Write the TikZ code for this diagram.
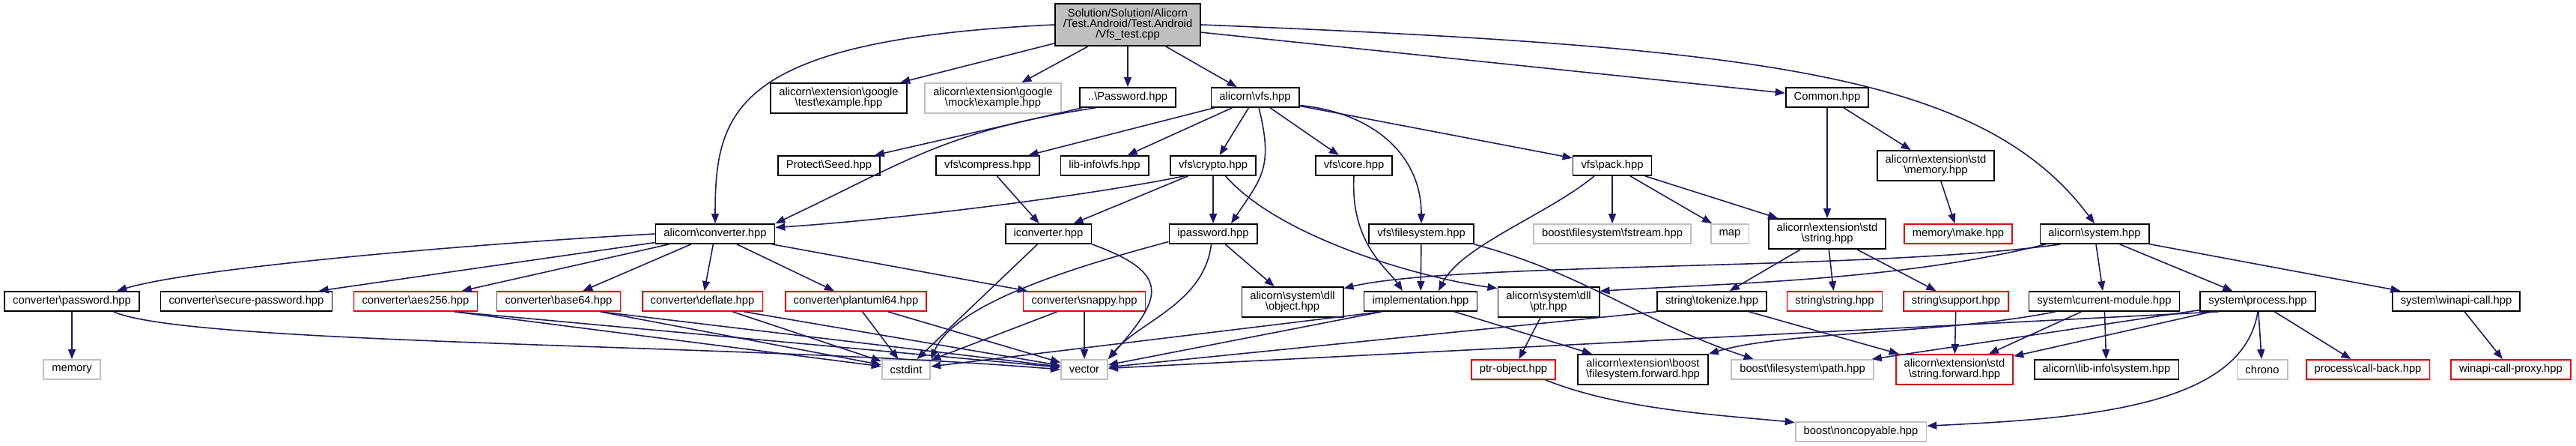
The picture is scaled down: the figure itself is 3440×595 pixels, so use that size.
\documentclass[tikz,border=0pt]{standalone}
\usepackage{fontspec}
\setmainfont{Liberation Sans}
\usetikzlibrary{arrows.meta}
\definecolor{dxedge}{HTML}{191970}
\definecolor{dxgray}{HTML}{BFBFBF}
\definecolor{dxred}{HTML}{FF0000}
\newcommand{\bsl}{\textbackslash}

\begin{document}
\begin{tikzpicture}[
    x=0.01cm, y=-0.01cm,
    hdr/.style={draw=black, fill=white, line width=0.5pt, align=center,
                font=\fontsize{4.2}{4}\selectfont,
                inner xsep=0.11cm, inner ysep=0pt, minimum height=0.26cm},
    ext/.style={hdr, draw=dxgray},
    trunc/.style={hdr, draw=dxred},
    two/.style={minimum height=0.40cm},
    rootfile/.style={hdr, fill=dxgray, minimum height=0.56cm},
    dep/.style={draw=dxedge, line width=0.45pt,
                -{Triangle[length=0.13cm, width=0.1cm]}},
  ]
  \useasboundingbox (0,0) rectangle (3440,595);

  % ===== row 1 =====
  \node[rootfile] (root) at (1506,33)
    {Solution/Solution/Alicorn\\/Test.Android/Test.Android\\/Vfs\_test.cpp};

  % ===== row 2 =====
  \node[hdr, two] (gtest) at (1120,131) {alicorn\bsl extension\bsl google\\\bsl test\bsl example.hpp};
  \node[ext, two] (gmock) at (1326,131) {alicorn\bsl extension\bsl google\\\bsl mock\bsl example.hpp};
  \node[hdr] (pwd) at (1506,130) {..\bsl Password.hpp};
  \node[hdr] (vfs) at (1676,130) {alicorn\bsl vfs.hpp};
  \node[hdr] (common) at (2440,130) {Common.hpp};

  % ===== row 3 =====
  \node[hdr] (seed) at (1107,221) {Protect\bsl Seed.hpp};
  \node[hdr] (compress) at (1319,221) {vfs\bsl compress.hpp};
  \node[hdr] (libvfs) at (1475,221) {lib-info\bsl vfs.hpp};
  \node[hdr] (crypto) at (1620,221) {vfs\bsl crypto.hpp};
  \node[hdr] (core) at (1808,221) {vfs\bsl core.hpp};
  \node[hdr] (pack) at (2153,221) {vfs\bsl pack.hpp};
  \node[hdr, two] (memstd) at (2585,221) {alicorn\bsl extension\bsl std\\\bsl memory.hpp};

  % ===== row 4 =====
  \node[hdr] (conv) at (955,312) {alicorn\bsl converter.hpp};
  \node[hdr] (iconv) at (1400,312) {iconverter.hpp};
  \node[hdr] (ipwd) at (1620,312) {ipassword.hpp};
  \node[hdr] (vfsfs) at (1898,312) {vfs\bsl filesystem.hpp};
  \node[ext] (fstream) at (2153,312) {boost\bsl filesystem\bsl fstream.hpp};
  \node[ext] (map) at (2310,312) {map};
  \node[hdr, two] (strstd) at (2440,312) {alicorn\bsl extension\bsl std\\\bsl string.hpp};
  \node[trunc] (make) at (2615,312) {memory\bsl make.hpp};
  \node[hdr] (system) at (2797,312) {alicorn\bsl system.hpp};

  % ===== row 5 =====
  \node[hdr] (cpwd) at (96,402) {converter\bsl password.hpp};
  \node[hdr] (secure) at (329,402) {converter\bsl secure-password.hpp};
  \node[trunc] (aes) at (555,402) {converter\bsl aes256.hpp};
  \node[trunc] (base64) at (746,402) {converter\bsl base64.hpp};
  \node[trunc] (deflate) at (938,402) {converter\bsl deflate.hpp};
  \node[trunc] (plantuml) at (1143,402) {converter\bsl plantuml64.hpp};
  \node[trunc] (snappy) at (1448,402) {converter\bsl snappy.hpp};
  \node[hdr, two] (dllobj) at (1726,403) {alicorn\bsl system\bsl dll\\\bsl object.hpp};
  \node[hdr] (impl) at (1897,402) {implementation.hpp};
  \node[hdr, two] (dllptr) at (2068,403) {alicorn\bsl system\bsl dll\\\bsl ptr.hpp};
  \node[hdr] (tokenize) at (2286,402) {string\bsl tokenize.hpp};
  \node[trunc] (strstr) at (2450,402) {string\bsl string.hpp};
  \node[trunc] (support) at (2612,402) {string\bsl support.hpp};
  \node[hdr] (curmod) at (2810,402) {system\bsl current-module.hpp};
  \node[hdr] (process) at (3015,402) {system\bsl process.hpp};
  \node[hdr] (winapi) at (3280,402) {system\bsl winapi-call.hpp};

  % ===== row 6 =====
  \node[ext] (memory) at (96,493) {memory};
  \node[ext] (cstdint) at (1210,493) {cstdint};
  \node[ext] (vector) at (1448,493) {vector};
  \node[trunc] (ptrobj) at (2021,493) {ptr-object.hpp};
  \node[hdr, two] (fsfwd) at (2194,493) {alicorn\bsl extension\bsl boost\\\bsl filesystem.forward.hpp};
  \node[ext] (path) at (2407,493) {boost\bsl filesystem\bsl path.hpp};
  \node[trunc, two] (strfwd) at (2610,493) {alicorn\bsl extension\bsl std\\\bsl string.forward.hpp};
  \node[hdr] (libsys) at (2813,493) {alicorn\bsl lib-info\bsl system.hpp};
  \node[ext] (chrono) at (3021,493) {chrono};
  \node[trunc] (callback) at (3162,493) {process\bsl call-back.hpp};
  \node[trunc] (proxy) at (3353,493) {winapi-call-proxy.hpp};

  % ===== row 7 =====
  \node[ext] (noncopy) at (2485,576) {boost\bsl noncopyable.hpp};

  % ===== edges from the test file =====
  \draw[dep] (root) -- (gtest);
  \draw[dep] (root) -- (gmock);
  \draw[dep] (root) -- (pwd);
  \draw[dep] (root) -- (vfs);
  \draw[dep] (root) -- (common);
  \draw[dep] (root.west) .. controls +(-430,20) and +(0,-150) .. (conv.north);
  \draw[dep] (root.east) .. controls +(750,30) and +(-150,-200) .. (system.north);

  % ===== row 2 edges =====
  \draw[dep] (pwd) -- (seed);
  \draw[dep] (pwd.-162) .. controls +(-200,30) and +(170,-80) .. (conv.north east);
  \draw[dep] (vfs) -- (compress);
  \draw[dep] (vfs) -- (libvfs);
  \draw[dep] (vfs) -- (crypto);
  \draw[dep] (vfs) -- (core);
  \draw[dep] (vfs) -- (pack);
  \draw[dep] (vfs.-70) .. controls +(20,80) and +(40,-60) .. (ipwd.30);
  \draw[dep] (vfs.-10) .. controls +(100,10) and +(0,-90) .. (vfsfs.north);
  \draw[dep] (common) -- (strstd);
  \draw[dep] (common) -- (memstd);

  % ===== row 3 edges =====
  \draw[dep] (memstd) -- (make);
  \draw[dep] (compress) -- (iconv);
  \draw[dep] (crypto) -- (iconv);
  \draw[dep] (crypto) -- (ipwd);
  \draw[dep] (crypto.-160) .. controls +(-150,30) and +(150,-10) .. (conv.6);
  \draw[dep] (crypto.-40) .. controls +(70,80) and +(-110,-15) .. (dllptr.165);
  \draw[dep] (core.south) .. controls +(-5,90) and +(-20,-30) .. (impl.150);
  \draw[dep] (pack.-150) .. controls +(-60,50) and +(30,-60) .. (impl.30);
  \draw[dep] (pack) -- (fstream);
  \draw[dep] (pack) -- (map);
  \draw[dep] (pack) -- (strstd);

  % ===== row 4 edges =====
  \draw[dep] (conv.west) .. controls +(-270,15) and +(100,-30) .. (cpwd.13);
  \draw[dep] (conv) -- (secure);
  \draw[dep] (conv) -- (aes);
  \draw[dep] (conv) -- (base64);
  \draw[dep] (conv) -- (deflate);
  \draw[dep] (conv) -- (plantuml);
  \draw[dep] (conv) -- (snappy);
  \draw[dep] (iconv) -- (cstdint);
  \draw[dep] (iconv.south east) .. controls +(110,40) and +(70,-80) .. (vector.north east);
  \draw[dep] (ipwd.-170) .. controls +(-150,40) and +(30,-70) .. (cstdint.north east);
  \draw[dep] (ipwd.-100) .. controls +(-10,80) and +(40,-50) .. (vector.north east);
  \draw[dep] (ipwd) -- (dllobj);
  \draw[dep] (vfsfs) -- (impl);
  \draw[dep] (vfsfs.south east) .. controls +(150,40) and +(-150,-50) .. (path.168);
  \draw[dep] (strstd) -- (tokenize);
  \draw[dep] (strstd) -- (strstr);
  \draw[dep] (strstd) -- (support);
  \draw[dep] (system.-163) .. controls +(-250,35) and +(150,-35) .. (dllobj.15);
  \draw[dep] (system.-168) .. controls +(-200,50) and +(150,-10) .. (dllptr.12);
  \draw[dep] (system) -- (curmod);
  \draw[dep] (system) -- (process);
  \draw[dep] (system) -- (winapi);

  % ===== row 5 edges =====
  \draw[dep] (cpwd) -- (memory);
  \draw[dep] (cpwd.-14) .. controls +(100,45) and +(-420,-35) .. (vector.west);
  \draw[dep] (aes.-15) -- (cstdint);
  \draw[dep] (aes.-15) -- (vector);
  \draw[dep] (base64.-14) -- (cstdint);
  \draw[dep] (base64.-14) -- (vector);
  \draw[dep] (deflate.-19) -- (cstdint);
  \draw[dep] (deflate.-14) -- (vector);
  \draw[dep] (plantuml.-58) -- (cstdint);
  \draw[dep] (plantuml.-18) -- (vector);
  \draw[dep] (snappy) -- (cstdint);
  \draw[dep] (snappy) -- (vector);
  \draw[dep] (impl.-165) -- (cstdint);
  \draw[dep] (impl.-165) -- (vector);
  \draw[dep] (impl) -- (fsfwd);
  \draw[dep] (dllptr) -- (ptrobj);
  \draw[dep] (tokenize.south west) -- (vector);
  \draw[dep] (tokenize) -- (strfwd);
  \draw[dep] (support) -- (strfwd);
  \draw[dep] (curmod.-168) .. controls +(-150,30) and +(100,-30) .. (fsfwd.north east);
  \draw[dep] (curmod) -- (strfwd);
  \draw[dep] (curmod) -- (libsys);
  \draw[dep] (process.-165) -- (vector);
  \draw[dep] (process) -- (path);
  \draw[dep] (process) -- (strfwd);
  \draw[dep] (process) -- (chrono);
  \draw[dep] (process) -- (callback);
  \draw[dep] (process.south) .. controls +(-20,130) and +(200,-10) .. (noncopy.5);
  \draw[dep] (winapi) -- (proxy);

  % ===== row 6 edges =====
  \draw[dep] (ptrobj.-18) .. controls +(100,40) and +(-100,-10) .. (noncopy.172);
\end{tikzpicture}
\end{document}
